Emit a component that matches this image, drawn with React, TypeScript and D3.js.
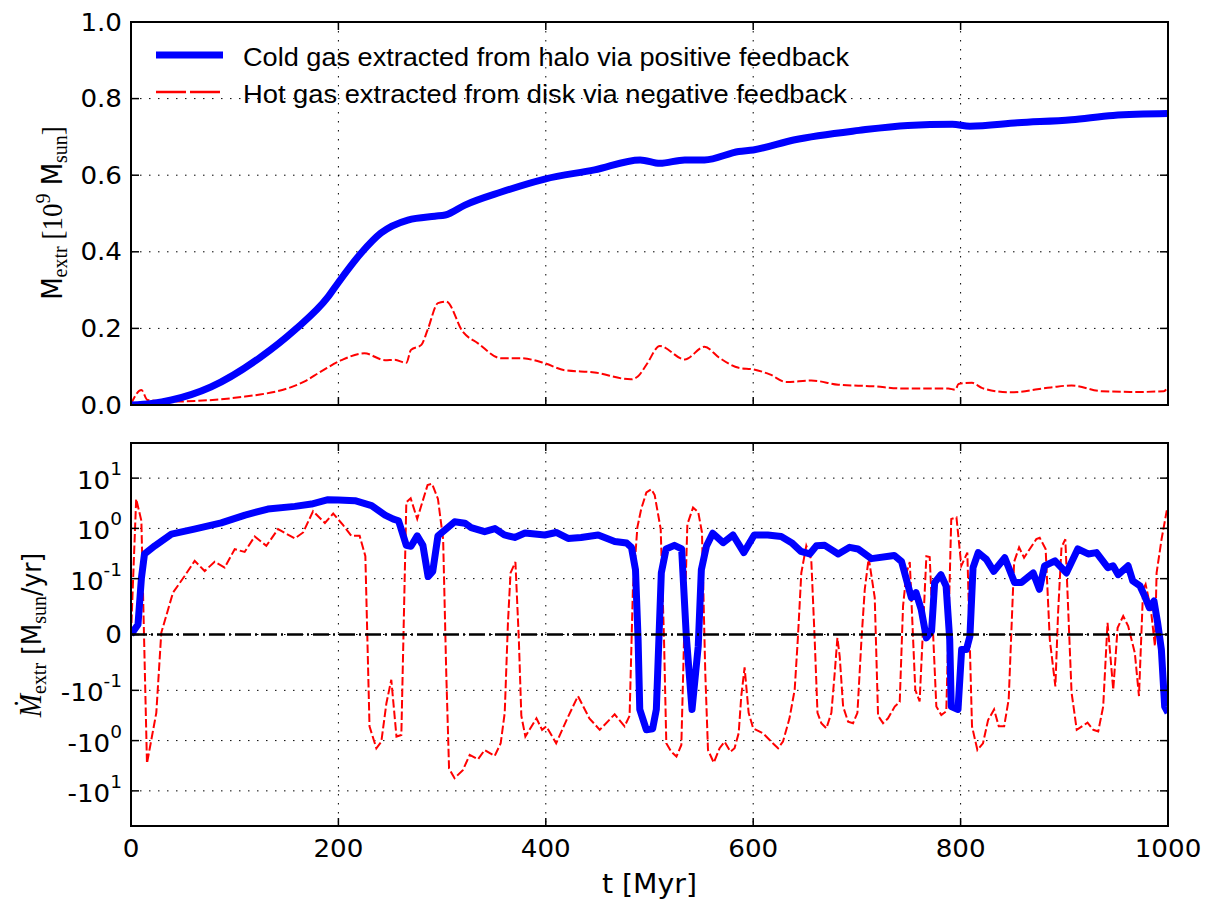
import React from "react";
import * as d3 from "d3";

// ---------- data ----------
const tCold = [0, 20, 39, 77, 125, 158, 190, 200, 222, 241, 267, 293, 303, 322, 357, 399, 447, 491, 510, 534, 553, 586, 600, 639, 702, 749, 792, 809, 855, 907, 947, 1000];
const mCold = [0.0, 0.004, 0.013, 0.047, 0.125, 0.196, 0.282, 0.32, 0.397, 0.449, 0.483, 0.493, 0.496, 0.522, 0.556, 0.59, 0.614, 0.64, 0.631, 0.64, 0.64, 0.662, 0.666, 0.692, 0.717, 0.73, 0.733, 0.728, 0.737, 0.745, 0.756, 0.761];

const tHot = [0, 10, 16, 38, 110, 167, 183, 203, 225, 245, 254, 265.5, 270, 280, 286, 296, 304, 320, 334.6, 357, 376, 399, 418, 447, 482, 489, 497, 510, 534, 553, 567, 586, 600, 616, 632, 656, 682, 715, 745, 788, 795, 798, 811, 821, 848, 887, 907, 936, 970, 996, 1000];
const mHot = [0.003, 0.039, 0.013, 0.009, 0.022, 0.061, 0.087, 0.117, 0.135, 0.117, 0.118, 0.11, 0.144, 0.157, 0.196, 0.266, 0.27, 0.191, 0.161, 0.122, 0.122, 0.109, 0.091, 0.085, 0.067, 0.075, 0.105, 0.154, 0.119, 0.152, 0.124, 0.097, 0.093, 0.08, 0.06, 0.064, 0.053, 0.049, 0.043, 0.043, 0.04, 0.055, 0.058, 0.044, 0.033, 0.046, 0.051, 0.036, 0.034, 0.036, 0.049];

const tColdRate = [0, 6.75, 10, 13, 23, 39, 61, 87, 110, 132, 158, 174, 190, 200, 216, 232, 245, 253, 258, 265.5, 270, 276, 281.5, 286.5, 291, 296, 312, 322, 328, 341, 351, 360, 370, 380, 399, 410, 421.5, 434, 450.5, 466.5, 478, 482.6, 486.5, 489, 490.6, 497, 503, 506.6, 511.4, 516, 524, 531, 535.5, 541, 547, 550, 555, 561, 571, 580.5, 591, 601, 614, 627, 637, 646, 654.5, 661, 669, 682, 693, 701, 714, 736, 743, 749, 752.5, 757, 762, 767, 772, 775, 781, 786, 789.5, 791, 797.5, 801, 805.6, 809, 812, 817, 825, 832, 842.6, 852, 858.6, 870, 876, 881, 891, 902, 913, 923, 931, 942, 947, 952, 961.5, 966, 973, 977.5, 982, 986.5, 990, 993.6, 996.8, 1000];
const rCold = [0, 0.018, 0.1, 0.31, 0.45, 0.77, 0.97, 1.29, 1.84, 2.43, 2.74, 3.05, 3.73, 3.67, 3.56, 2.84, 1.84, 1.53, 1.42, 0.46, 0.44, 0.71, 0.46, 0.11, 0.14, 0.71, 1.35, 1.27, 1.04, 0.86, 0.99, 0.74, 0.66, 0.81, 0.74, 0.83, 0.63, 0.66, 0.74, 0.55, 0.51, 0.42, 0.15, -0.009, -0.24, -0.61, -0.58, -0.24, 0.13, 0.39, 0.46, 0.39, -0.003, -0.24, -0.021, 0.15, 0.45, 0.8, 0.52, 0.74, 0.33, 0.74, 0.74, 0.69, 0.52, 0.35, 0.31, 0.45, 0.46, 0.31, 0.42, 0.39, 0.25, 0.29, 0.22, 0.09, 0.066, 0.075, 0.045, -0.006, 0.006, 0.093, 0.12, 0.087, -0.009, -0.21, -0.24, -0.027, -0.027, -0.003, 0.166, 0.33, 0.24, 0.14, 0.26, 0.093, 0.093, 0.13, 0.081, 0.18, 0.226, 0.13, 0.39, 0.31, 0.33, 0.166, 0.18, 0.12, 0.18, 0.096, 0.087, 0.069, 0.048, 0.06, 0.021, -0.027, -0.21, -0.28];

const tHotRate = [0, 5, 10, 15.4, 24.4, 29.2, 40.5, 51.7, 61.4, 71, 80.7, 90.3, 100, 109.6, 119.3, 130.5, 141.8, 158, 166, 175.6, 187, 195, 204.4, 212.5, 220.5, 226, 230, 236.6, 241.4, 246.3, 251, 256, 260.7, 265.5, 269.7, 276, 286, 290.3, 296, 301, 304, 306.7, 312, 320, 326.6, 334.6, 341, 350.7, 356.5, 360.4, 363.5, 366, 370.7, 374, 376.4, 380.3, 391, 396.4, 400.5, 410, 420, 431, 442, 452, 466.4, 476, 480.8, 484, 488.3, 492, 497, 501.8, 505, 510.8, 514, 516.2, 521, 526, 530.7, 533.3, 536.5, 542, 547, 550.6, 553.8, 556.4, 562, 567.6, 572.4, 578, 582, 586, 588.5, 591.7, 595.6, 600, 609.4, 617.4, 624, 628.7, 635, 640, 643, 646.4, 651.2, 656, 659.3, 662, 665.7, 670.6, 675.4, 678.6, 681.2, 683.4, 686.7, 691.5, 696.3, 700.5, 704.4, 707.6, 711.4, 717.2, 720.4, 725.2, 730, 736.5, 741.3, 744.5, 747.8, 751, 756.3, 760.5, 767, 770.2, 776.6, 781.4, 786.2, 791, 796, 800.7, 806.5, 811, 816.2, 821.6, 826.5, 832.3, 836.8, 842, 846.4, 851.6, 856.4, 861.2, 866.7, 873, 876.3, 882, 886, 891.4, 894, 897.3, 901, 907, 912, 922.4, 928, 932.7, 937.5, 941.7, 947.2, 951.4, 956.8, 961.6, 968, 972, 976, 978.4, 983.5, 987.4, 989, 993.8, 998.7, 1000];
const rHot = [0, 3.86, 1.42, -2.85, -0.28, 0.003, 0.075, 0.113, 0.226, 0.142, 0.216, 0.166, 0.386, 0.34, 0.69, 0.45, 0.97, 0.63, 0.83, 2.2, 1.28, 1.97, 1.17, 0.71, 0.71, 0.28, -0.52, -1.42, -1.05, -0.18, -0.081, -0.83, -0.77, 3.3, 3.97, 1.54, 7.3, 7.7, 3.86, 0.61, -0.069, -3.58, -5.6, -3.86, -1.93, -2.36, -1.54, -2.03, -1.13, -0.28, 0.021, 0.13, 0.215, -0.009, -0.32, -0.83, -0.36, -0.61, -0.52, -1.13, -0.39, -0.13, -0.36, -0.61, -0.3, -0.52, -0.32, 0.081, 1.05, 2.43, 5.2, 6.0, 4.6, 0.97, -0.009, -1.13, -1.66, -2.08, -1.22, -0.009, 1.2, 2.6, 2.1, 0.83, -0.069, -1.54, -2.75, -1.42, -1.05, -1.66, -1.42, -0.71, -0.13, -0.059, -0.28, -0.57, -0.71, -1.05, -1.42, -1.05, -0.36, -0.099, -0.009, 0.13, 0.45, 0.24, -0.009, -0.28, -0.45, -0.57, -0.28, -0.069, -0.006, -0.039, -0.21, -0.42, -0.45, -0.28, -0.009, 0.081, 0.26, 0.066, -0.32, -0.45, -0.36, -0.21, -0.17, 0.051, 0.13, 0.215, -0.099, -0.166, 0.28, 0.27, -0.21, -0.31, -0.26, 1.54, 1.66, 0.18, 0.33, -0.52, -1.54, -1.13, -0.39, -0.24, -0.52, -0.52, -0.15, 0.215, 0.42, 0.26, 0.39, 0.61, 0.65, 0.39, -0.009, -0.093, 0.039, 0.42, 0.61, -0.11, -0.61, -0.44, -0.61, -0.66, -0.21, 0.021, -0.099, 0.012, 0.033, 0.015, -0.033, -0.13, 0.081, 0.09, 0.045, -0.021, 0.13, 0.61, 2.2, 2.2];

const xTicks = [0, 200, 400, 600, 800, 1000];
const topYTicks = [0, 0.2, 0.4, 0.6, 0.8, 1.0];
const botYTicks = [10, 1, 0.1, 0, -0.1, -1, -10];
const legendLabels = [
  "Cold gas extracted from halo via positive feedback",
  "Hot gas extracted from disk via negative feedback",
];

// ---------- helpers ----------
const LINTHRESH = 0.1;
const LINSCALE_ADJ = 1 / (1 - 1 / 10);
function symlog(v: number): number {
  const a = Math.abs(v);
  if (a <= LINTHRESH) return (v / LINTHRESH) * LINSCALE_ADJ;
  return Math.sign(v) * (Math.log10(a / LINTHRESH) + LINSCALE_ADJ);
}

const SX = 1.09;
const SANS = "'DejaVu Sans', sans-serif";
const SERIF = "'Liberation Serif', 'DejaVu Serif', serif";
const LEG = "'Liberation Sans', Arial, sans-serif";

const L = 131, R = 1168;
const TT = 22, TB = 405;
const BT = 443, BB = 826;

export default function App() {
  const x = d3.scaleLinear().domain([0, 1000]).range([L, R]);
  const yT = d3.scaleLinear().domain([0, 1]).range([TB, TT]);
  const yBs = d3.scaleLinear().domain([symlog(-50), symlog(50)]).range([BB, BT]);
  const yB = (v: number) => yBs(symlog(v));

  const lineSmooth = d3.line<[number, number]>().x((d) => d[0]).y((d) => d[1]).curve(d3.curveMonotoneX);
  const line = d3.line<[number, number]>().x((d) => d[0]).y((d) => d[1]);
  const pathTop = (ts: number[], vs: number[]) => lineSmooth(ts.map((t, i) => [x(t), yT(vs[i])]) as [number, number][]) || "";
  const pathBot = (ts: number[], vs: number[]) => line(ts.map((t, i) => [x(t), yB(vs[i])]) as [number, number][]) || "";

  const gridStyle = { stroke: "#000", strokeWidth: 1, strokeDasharray: "1.5,7.5", fill: "none" };
  const tickLen = 8;

  const panelFrame = (top: number, bottom: number, yPix: number[]) => (
    <g>
      {xTicks.map((t) => (
        <g key={"xt" + t}>
          <line x1={x(t)} x2={x(t)} y1={bottom} y2={bottom - tickLen} stroke="#000" strokeWidth={1.5} />
          <line x1={x(t)} x2={x(t)} y1={top} y2={top + tickLen} stroke="#000" strokeWidth={1.5} />
        </g>
      ))}
      {yPix.map((p, i) => (
        <g key={"yt" + i}>
          <line x1={L} x2={L + tickLen} y1={p} y2={p} stroke="#000" strokeWidth={1.5} />
          <line x1={R} x2={R - tickLen} y1={p} y2={p} stroke="#000" strokeWidth={1.5} />
        </g>
      ))}
      <rect x={L} y={top} width={R - L} height={bottom - top} fill="none" stroke="#000" strokeWidth={2} />
    </g>
  );

  const topYPix = topYTicks.map((v) => yT(v));
  const botYPix = botYTicks.map((v) => yB(v));

  const supLabel = (v: number) => {
    if (v === 0) return <tspan>0</tspan>;
    const sign = v < 0 ? "-" : "";
    const e = Math.round(Math.log10(Math.abs(v)));
    return (
      <>
        <tspan>{sign + "10"}</tspan>
        <tspan dy={-14} fontSize={17}>{e < 0 ? "-" + Math.abs(e) : String(e)}</tspan>
      </>
    );
  };

  return (
    <svg width={1205} height={900} style={{ position: "absolute", left: 0, top: 0, background: "#fff" }}>
      <defs>
        <clipPath id="clipTop"><rect x={L} y={TT} width={R - L} height={TB - TT} /></clipPath>
        <clipPath id="clipBot"><rect x={L} y={BT} width={R - L} height={BB - BT} /></clipPath>
      </defs>
      <rect x={0} y={0} width={1205} height={900} fill="#fff" />

      {/* ---------- top panel ---------- */}
      <g>
        {xTicks.filter((t) => t > 0 && t < 1000).map((t) => (
          <line key={"gx" + t} x1={x(t)} x2={x(t)} y1={TT} y2={TB} style={gridStyle} />
        ))}
        {topYTicks.filter((v) => v > 0 && v < 1).map((v) => (
          <line key={"gy" + v} x1={L} x2={R} y1={yT(v)} y2={yT(v)} style={gridStyle} />
        ))}
        <g clipPath="url(#clipTop)">
          <path d={pathTop(tHot, mHot)} fill="none" stroke="#ff0000" strokeWidth={2} strokeDasharray="8.5,3" />
          <path d={pathTop(tCold, mCold)} fill="none" stroke="#0000ff" strokeWidth={7} strokeLinejoin="round" />
        </g>
        {panelFrame(TT, TB, topYPix)}
        {topYTicks.map((v) => (
          <text key={"tl" + v} transform={`translate(122,${yT(v) + 8.5}) scale(${SX},1)`} textAnchor="end" fontFamily={SANS} fontSize={24}>
            {d3.format(".1f")(v)}
          </text>
        ))}
        {/* legend */}
        <line x1={156} x2={223} y1={55} y2={55} stroke="#0000ff" strokeWidth={7} />
        <line x1={156} x2={223} y1={92} y2={92} stroke="#ff0000" strokeWidth={2.5} strokeDasharray="30,4" />
        <text x={243} y={66} fontFamily={LEG} fontSize={25} textLength={606} lengthAdjust="spacingAndGlyphs">{legendLabels[0]}</text>
        <text x={243} y={103} fontFamily={LEG} fontSize={25} textLength={604} lengthAdjust="spacingAndGlyphs">{legendLabels[1]}</text>
        {/* y label */}
        <text transform={`translate(62,213) scale(${SX},1) rotate(-90)`} textAnchor="middle" fontSize={26}>
          <tspan fontFamily={SANS}>M</tspan>
          <tspan fontFamily={SERIF} fontSize={20} dy={5}>extr</tspan>
          <tspan fontFamily={SERIF} fontSize={27} dy={-5}> [10</tspan>
          <tspan fontFamily={SERIF} fontSize={20} dy={-11}>9</tspan>
          <tspan fontFamily={SANS} dy={11}> M</tspan>
          <tspan fontFamily={SERIF} fontSize={20} dy={5}>sun</tspan>
          <tspan fontFamily={SERIF} fontSize={27} dy={-5}>]</tspan>
        </text>
      </g>

      {/* ---------- bottom panel ---------- */}
      <g>
        {xTicks.filter((t) => t > 0 && t < 1000).map((t) => (
          <line key={"bgx" + t} x1={x(t)} x2={x(t)} y1={BT} y2={BB} style={gridStyle} />
        ))}
        {botYTicks.map((v) => (
          <line key={"bgy" + v} x1={L} x2={R} y1={yB(v)} y2={yB(v)} style={gridStyle} />
        ))}
        <g clipPath="url(#clipBot)">
          <path d={pathBot(tHotRate, rHot)} fill="none" stroke="#ff0000" strokeWidth={2} strokeDasharray="8.5,3" />
          <path d={pathBot(tColdRate, rCold)} fill="none" stroke="#0000ff" strokeWidth={7} strokeLinejoin="round" />
          <line x1={L} x2={R} y1={yB(0)} y2={yB(0)} stroke="#000" strokeWidth={2.5} strokeDasharray="16,4,2,4" />
        </g>
        {panelFrame(BT, BB, botYPix)}
        {botYTicks.map((v) => (
          <text key={"bl" + v} transform={`translate(122,${yB(v) + (v === 0 ? 8.5 : 11)}) scale(${SX},1)`} textAnchor="end" fontFamily={SANS} fontSize={24}>
            {supLabel(v)}
          </text>
        ))}
        {xTicks.map((t) => (
          <text key={"xl" + t} transform={`translate(${x(t)},857) scale(${SX},1)`} textAnchor="middle" fontFamily={SANS} fontSize={24}>
            {String(t)}
          </text>
        ))}
        <text transform={`translate(${(L + R) / 2},893) scale(${SX},1)`} textAnchor="middle" fontFamily={SANS} fontSize={26}>
          t [Myr]
        </text>
        {/* y label */}
        <text transform={`translate(41,635) scale(${SX},1) rotate(-90)`} textAnchor="middle" fontSize={25}>
          <tspan fontFamily={SERIF} fontStyle="italic" fontSize={28}>{"\u1E40"}</tspan>
          <tspan fontFamily={SERIF} fontSize={20} dy={5}>extr</tspan>
          <tspan fontFamily={SANS} dy={-5}> [M</tspan>
          <tspan fontFamily={SERIF} fontSize={20} dy={5}>sun</tspan>
          <tspan fontFamily={SANS} dy={-5}>/yr]</tspan>
        </text>
      </g>
    </svg>
  );
}
